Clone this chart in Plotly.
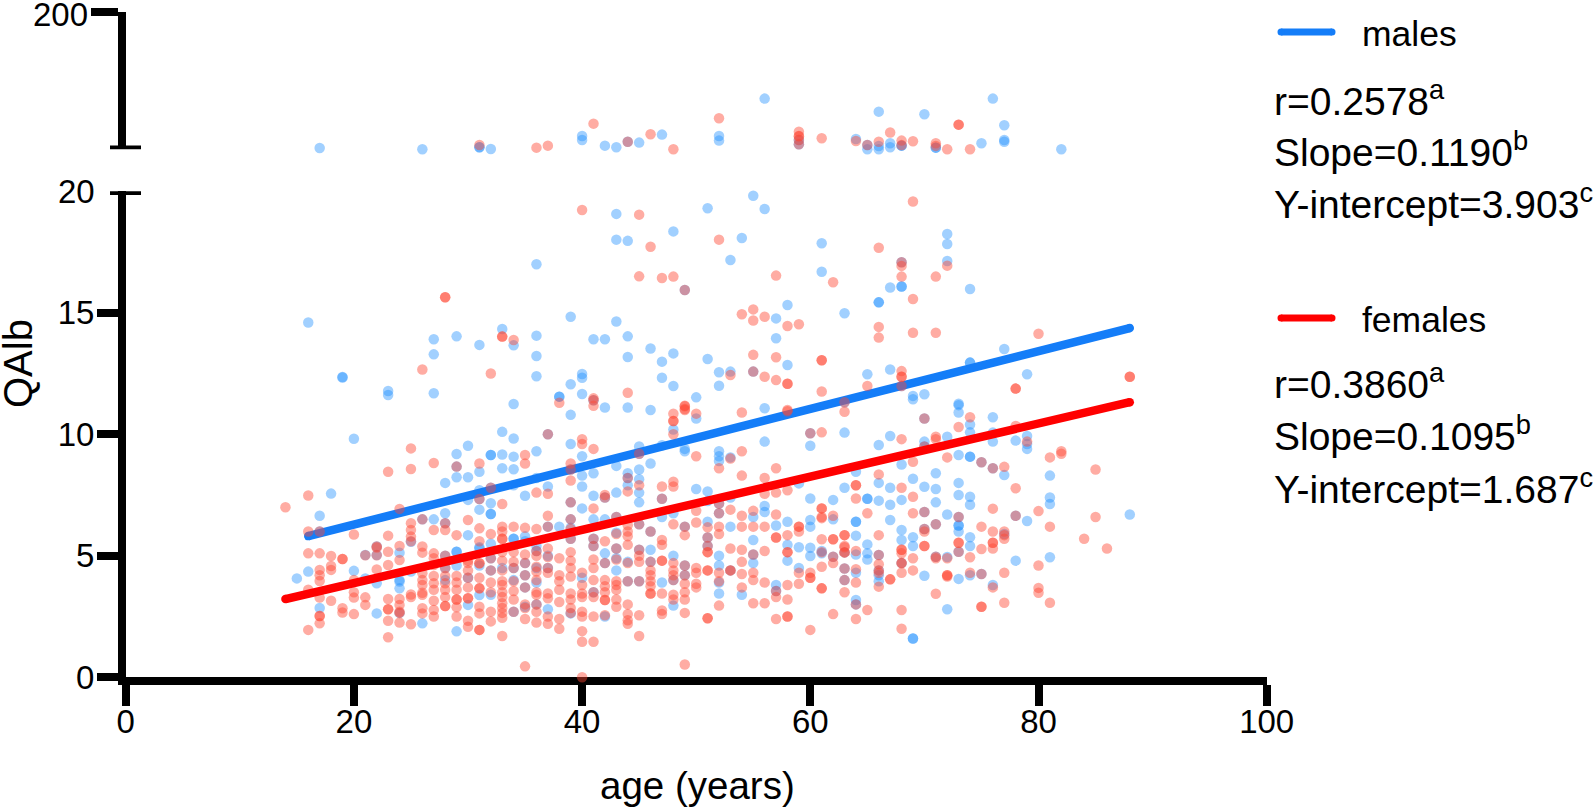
import plotly.graph_objects as go

W, H = 1595, 808
FONT = "Liberation Sans"

# (age, QAlb); lower panel 0-20, upper panel 20-200
male_low = [
 (15,4.07),(16,4.35),(16,14.6),(17,6.65),(17,6.0),(17,2.85),(18,7.56),(19,12.36),(19,12.34),
 (20,9.82),(20,4.38),(21,5.03),(21,4.07),(22,5.38),(22,5.03),(22,3.87),(22,2.63),(23,11.78),(23,11.62),
 (24,5.13),(24,4.0),(24,3.94),(24,3.66),(24,2.65),(25,5.58),(25,4.35),(26,6.5),(26,2.22),
 (27,13.91),(27,13.29),(27,11.69),(27,6.5),(28,8.0),(28,6.75),(28,6.34),(28,5.0),(28,4.5),(28,4.0),
 (29,14.03),(29,9.19),(29,8.67),(29,8.23),(29,5.17),(29,5.17),(29,4.6),(29,1.89),
 (30,9.53),(30,8.23),(30,7.3),(30,5.85),(30,4.1),(30,2.98),
 (31,13.68),(31,8.46),(31,7.7),(31,7.34),(31,6.9),(31,5.35),(31,5.3),(31,4.6),(31,3.39),
 (32,9.15),(32,9.15),(32,7.16),(32,6.72),(32,6.72),(32,7.8),(32,5.5),(32,4.9),(32,4.4),(32,3.4),
 (33,14.33),(33,10.1),(33,9.17),(33,8.6),(33,4.5),
 (34,13.66),(34,11.25),(34,9.83),(34,9.08),(34,8.56),(34,7.9),(34,5.7),(34,5.7),(34,4.5),(34,4.0),(34,2.7),
 (35,7.47),(35,5.8),(35,5.6),(35,4.7),(35,4.2),(35,3.7),(35,2.9),
 (36,17.0),(36,14.06),(36,13.22),(36,12.39),(36,9.3),(36,8.2),(36,5.4),(36,5.2),(36,4.5),(36,3.9),(36,3.0),
 (37,10.0),(37,7.85),(37,6.2),(37,5.0),(37,4.5),(37,2.8),(38,11.55),(38,11.55),(38,6.2),
 (39,14.84),(39,12.06),(39,10.8),(39,9.6),(39,8.55),(39,7.2),(39,6.5),(39,6.15),(39,5.7),(39,2.63),
 (40,12.48),(40,12.33),(40,11.66),(40,9.1),(40,8.3),(40,7.85),(40,6.95),(40,4.1),
 (41,13.91),(41,11.4),(41,8.4),(41,7.47),(41,6.5),(41,5.7),(41,5.4),(41,3.5),
 (42,13.91),(42,11.1),(42,7.4),(42,6.5),(42,5.1),(42,4.7),(42,2.5),
 (43,19.07),(43,18.01),(43,14.64),(43,8.7),(43,7.6),(43,6.6),(43,5.95),(43,5.3),(43,4.9),(43,4.4),
 (44,17.96),(44,14.03),(44,13.18),(44,11.1),(44,8.4),(44,8.2),(44,7.9),(44,4.75),(44,3.95),
 (45,9.5),(45,9.2),(45,8.55),(45,8.15),(45,7.6),(45,7.2),(45,6.3),(45,5.25),(45,3.95),
 (46,13.53),(46,11.0),(46,8.8),(46,6.0),(46,5.25),(46,4.75),
 (47,12.99),(47,12.33),(47,9.55),(47,7.35),(47,6.6),(47,3.9),
 (48,18.35),(48,13.33),(48,11.99),(48,10.2),(48,6.75),(48,5.0),(48,4.0),(48,2.95),
 (49,15.94),(49,9.4),(49,9.3),(49,6.2),(49,4.6),(49,4.2),(50,11.52),(50,10.65),(50,7.75),
 (51,19.3),(51,13.1),(51,7.65),(51,7.25),(51,6.4),(51,5.75),(51,5.4),
 (52,12.55),(52,12.0),(52,9.3),(52,9.1),(52,8.9),(52,7.15),(52,6.75),(52,5.0),(52,4.6),(52,3.9),(52,3.45),
 (53,17.17),(53,12.58),(53,9.05),(53,7.4),(53,6.2),(53,4.4),(54,18.08),(54,3.4),
 (55,19.82),(55,12.58),(55,6.6),(55,5.65),(55,5.05),(55,4.7),(56,19.27),(56,11.07),(56,9.7),(56,7.05),(56,6.8),
 (57,14.77),(57,13.95),(57,6.25),(57,3.8),(57,3.55),(58,15.32),(58,12.85),(58,6.4),(58,5.45),(58,4.8),
 (59,7.98),(59,5.35),(59,4.5),(60,10.04),(60,9.53),(60,7.36),(60,6.47),(60,6.2),(60,5.33),(60,4.99),
 (61,17.86),(61,16.69),(61,5.2),(61,5.1),(62,7.3),(62,6.5),(62,4.96),
 (63,14.98),(63,11.32),(63,10.07),(63,7.8),(63,5.14),(63,4.48),(63,4.0),
 (64,8.46),(64,6.4),(64,6.4),(64,5.83),(64,5.05),(64,4.3),(64,3.18),(64,3.0),
 (65,12.47),(65,7.35),(65,7.35),(65,5.47),(65,5.1),(65,4.85),
 (66,15.43),(66,15.43),(66,9.56),(66,8.0),(66,7.27),(66,5.03),(66,4.4),(66,4.2),(66,3.95),
 (67,16.04),(67,12.67),(67,9.93),(67,7.8),(67,7.1),(67,6.47),
 (68,17.08),(68,16.08),(68,16.08),(68,11.99),(68,8.76),(68,7.3),(68,6.06),(68,5.65),(68,4.7),
 (69,11.58),(69,11.44),(69,8.17),(69,5.76),(69,5.4),(69,1.6),(69,1.6),
 (70,11.65),(70,10.65),(70,9.7),(70,9.5),(70,7.84),(70,6.8),(70,6.1),(70,4.18),
 (71,8.4),(71,7.75),(71,7.2),(71,6.3),(71,4.96),(72,18.24),(72,17.83),(72,17.13),(72,9.9),(72,6.7),(72,4.95),(72,2.8),
 (73,11.26),(73,11.2),(73,10.9),(73,9.15),(73,8.0),(73,7.5),(73,6.6),(73,6.25),(73,6.25),(73,6.0),(73,5.17),(73,4.05),
 (74,15.98),(74,12.95),(74,12.95),(74,10.4),(74,10.08),(74,9.08),(74,9.08),(74,7.43),(74,7.1),(74,5.76),(74,5.4),(74,4.2),
 (75,8.85),(75,4.25),(76,10.7),(76,10.07),(76,9.7),(76,8.6),(76,3.8),(77,13.51),(77,8.32),(77,5.9),
 (78,9.74),(78,6.65),(78,4.8),(79,12.47),(79,9.93),(79,9.6),(79,9.4),(79,6.43),
 (81,8.3),(81,7.4),(81,7.13),(81,4.94),(88,6.7),
]
male_high = [
 (17,21.7),(26,20.0),(31,22.6),(31,22.6),(32,20.4),(40,37.5),(40,32.3),(42,24.8),(43,22.6),(44,30.0),
 (45,28.8),(47,39.3),(52,37.5),(52,31.4),(56,86.6),(59,32.3),(59,26.6),(64,33.6),(65,25.7),(65,20.0),
 (66,69.5),(66,24.4),(66,20.0),(67,27.9),(67,22.6),(68,24.8),(68,24.8),(70,66.0),(71,22.2),(71,22.2),
 (75,27.9),(76,86.6),(77,51.5),(77,32.3),(77,30.0),(82,20.0),
]
female_low = [
 (14,7.0),(16,7.48),(16,6.0),(16,5.1),(16,3.6),(16,1.95),
 (17,6.0),(17,5.1),(17,4.42),(17,4.2),(17,3.96),(17,3.28),(17,2.52),(17,2.52),(17,2.22),
 (18,4.99),(18,4.58),(18,4.42),(18,3.15),(19,4.87),(19,4.87),(19,2.84),(19,2.67),
 (20,5.88),(20,4.0),(20,3.5),(20,3.28),(20,2.6),(21,5.02),(21,3.29),(21,2.98),
 (22,5.38),(22,5.34),(22,5.02),(22,4.44),
 (23,8.46),(23,5.83),(23,5.17),(23,4.62),(23,3.22),(23,2.8),(23,2.8),(23,2.33),(23,1.65),
 (24,6.93),(24,5.4),(24,4.83),(24,3.22),(24,2.98),(24,2.7),(24,2.65),(24,2.25),
 (25,9.42),(25,8.57),(25,6.34),(25,6.06),(25,5.79),(25,5.6),(25,3.41),(25,3.3),(25,2.18),
 (26,12.67),(26,6.5),(26,5.38),(26,5.13),(26,4.28),(26,4.0),(26,3.8),(26,3.48),(26,3.4),(26,2.84),(26,2.63),
 (27,8.82),(27,6.06),(27,5.1),(27,4.9),(27,4.62),(27,4.17),(27,3.87),(27,3.6),(27,3.15),(27,2.77),(27,2.5),
 (28,15.64),(28,15.64),(28,6.34),(28,6.06),(28,5.0),(28,4.5),(28,4.17),(28,3.87),(28,3.6),(28,3.3),(28,2.93),(28,2.93),
 (29,8.67),(29,5.85),(29,4.17),(29,3.9),(29,3.6),(29,3.2),(29,3.2),(29,2.88),(29,2.5),
 (30,6.47),(30,4.8),(30,4.7),(30,4.4),(30,4.1),(30,3.7),(30,3.25),(30,3.25),(30,2.33),(30,2.08),
 (31,8.8),(31,7.34),(31,6.13),(31,5.6),(31,4.69),(31,4.69),(31,4.1),(31,3.66),(31,3.66),(31,2.9),(31,2.63),(31,1.95),(31,1.95),
 (32,12.5),(32,7.8),(32,5.9),(32,4.9),(32,4.4),(32,3.9),(32,3.5),(32,2.7),(32,2.3),
 (33,14.02),(33,14.02),(33,7.13),(33,6.2),(33,6.0),(33,5.7),(33,5.7),(33,5.15),(33,4.8),(33,4.4),(33,3.95),(33,3.8),(33,3.5),(33,3.3),(33,3.05),(33,2.85),(33,2.65),(33,2.45),(33,1.7),
 (34,13.88),(34,6.2),(34,5.15),(34,4.75),(34,4.5),(34,3.95),(34,3.55),(34,3.2),(34,2.7),
 (35,9.15),(35,8.8),(35,6.15),(35,5.05),(35,4.7),(35,4.2),(35,3.7),(35,3.0),(35,2.85),(35,2.4),(35,0.45),
 (36,7.6),(36,6.1),(36,5.2),(36,5.0),(36,4.55),(36,4.35),(36,4.0),(36,3.5),(36,3.4),(36,3.0),(36,2.7),(36,2.25),
 (37,10.0),(37,7.55),(37,6.65),(37,6.2),(37,5.3),(37,4.95),(37,4.5),(37,4.3),(37,3.45),(37,3.25),(37,2.5),(37,2.2),
 (38,11.3),(38,4.9),(38,4.2),(38,3.95),(38,3.6),(38,3.1),(38,2.4),(38,2.0),
 (39,8.8),(39,8.55),(39,8.1),(39,7.2),(39,6.5),(39,6.1),(39,5.7),(39,5.15),(39,4.8),(39,4.5),(39,4.15),(39,3.45),(39,3.2),(39,2.85),(39,2.65),
 (40,19.23),(40,9.8),(40,9.6),(40,4.3),(40,3.8),(40,3.45),(40,3.3),(40,2.7),(40,2.5),(40,1.9),(40,1.46),(40,0.0),
 (41,11.48),(41,11.4),(41,11.17),(41,9.4),(41,6.95),(41,5.7),(41,5.4),(41,4.85),(41,4.5),(41,4.0),(41,3.5),(41,3.3),(41,2.5),(41,1.46),
 (42,7.5),(42,7.4),(42,5.6),(42,4.7),(42,4.0),(42,3.75),(42,3.5),(42,3.18),(42,3.18),(42,2.55),
 (43,6.6),(43,5.9),(43,5.3),(43,4.85),(43,3.95),(43,3.8),(43,3.6),(43,3.2),(43,2.9),
 (44,11.71),(44,8.2),(44,7.65),(44,6.26),(44,6.0),(44,5.8),(44,5.45),(44,4.7),(44,3.95),(44,3.0),(44,2.6),(44,2.35),(44,2.2),
 (45,19.04),(45,16.5),(45,9.2),(45,7.9),(45,6.3),(45,5.25),(45,5.0),(45,4.75),(45,3.95),(45,2.55),(45,1.7),
 (46,17.72),(46,6.0),(46,4.75),(46,4.4),(46,4.2),(46,3.95),(46,3.75),(46,3.45),(46,3.45),
 (47,16.43),(47,7.85),(47,7.35),(47,5.65),(47,5.45),(47,4.8),(47,4.8),(47,3.45),(47,2.75),(47,2.6),
 (48,16.49),(48,10.85),(48,10.55),(48,10.55),(48,10.0),(48,8.05),(48,7.85),(48,6.3),(48,4.7),(48,4.4),(48,4.2),(48,4.0),(48,3.4),(48,3.2),
 (49,15.94),(49,11.18),(49,11.15),(49,11.04),(49,11.0),(49,6.2),(49,5.85),(49,4.6),(49,4.2),(49,3.85),(49,3.5),(49,3.2),(49,2.65),(49,0.53),
 (50,10.85),(50,9.1),(50,6.85),(50,6.37),(50,4.5),(50,4.3),(50,3.85),(50,3.7),
 (51,6.17),(51,5.75),(51,5.4),(51,5.15),(51,5.15),(51,4.4),(51,4.4),(51,2.43),(51,2.43),
 (52,18.01),(52,8.6),(52,7.15),(52,6.75),(52,6.2),(52,5.9),(52,4.3),(52,3.95),(52,2.95),
 (53,12.44),(53,9.0),(53,6.9),(53,5.3),(53,4.4),(53,4.4),
 (54,14.94),(54,10.9),(54,9.3),(54,8.3),(54,6.65),(54,6.2),(54,5.25),(54,4.75),(54,4.25),(54,3.7),
 (55,15.14),(55,14.68),(55,13.27),(55,12.58),(55,6.85),(55,6.2),(55,5.05),(55,4.3),(55,4.0),(55,3.05),
 (56,14.84),(56,12.37),(56,8.2),(56,7.55),(56,6.2),(56,5.2),(56,3.9),(56,3.05),
 (57,16.53),(57,13.17),(57,12.23),(57,8.6),(57,7.6),(57,6.7),(57,5.75),(57,5.75),(57,3.55),(57,3.3),(57,2.4),
 (58,14.46),(58,12.08),(58,12.08),(58,11.0),(58,10.95),(58,7.7),(58,5.85),(58,5.15),(58,5.15),(58,3.8),(58,3.2),(58,2.5),(58,2.5),
 (59,14.53),(59,6.2),(59,6.2),(59,6.0),(59,4.3),(59,3.85),(60,10.04),(60,4.3),(60,4.1),(60,4.1),(60,1.95),
 (61,13.05),(61,13.05),(61,11.76),(61,10.08),(61,6.95),(61,6.95),(61,6.6),(61,6.55),(61,5.68),(61,5.15),(61,4.55),(61,3.66),(61,3.66),
 (62,16.26),(62,6.65),(62,5.68),(62,5.68),(62,4.96),(62,4.7),(62,2.6),
 (63,11.32),(63,10.93),(63,5.85),(63,5.85),(63,5.4),(63,5.35),(63,5.14),(63,5.14),(63,4.48),(63,4.0),(63,3.5),
 (64,7.9),(64,7.9),(64,7.36),(64,5.2),(64,4.45),(64,3.9),(64,3.0),(64,2.4),(65,11.99),(65,6.75),(65,2.77),
 (66,17.68),(66,14.42),(66,13.98),(66,8.35),(66,5.85),(66,5.03),(66,4.65),(66,4.4),(66,4.3),(66,3.73),(67,4.03),(67,4.03),
 (68,17.08),(68,16.93),(68,16.49),(68,12.6),(68,12.37),(68,12.37),(68,11.99),(68,9.8),(68,7.8),(68,5.25),(68,5.25),(68,5.1),(68,4.7),(68,4.7),(68,4.3),(68,2.77),(68,2.0),
 (69,19.58),(69,15.57),(69,14.18),(69,8.87),(69,7.43),(69,6.75),(69,4.9),(69,4.4),
 (70,10.65),(70,9.5),(70,6.8),(70,6.1),(70,6.0),(70,5.4),(70,5.4),
 (71,16.49),(71,14.18),(71,9.9),(71,9.8),(71,6.3),(71,4.96),(71,4.9),(71,3.44),
 (72,16.94),(72,9.05),(72,4.9),(72,4.2),(72,4.2),(72,4.15),(73,10.3),(73,6.6),(73,5.54),(73,5.54),(73,5.17),
 (74,10.7),(74,4.94),(74,4.3),(75,8.85),(75,6.2),(75,5.28),(75,4.25),(75,2.9),(75,2.9),
 (76,8.6),(76,6.94),(76,6.0),(76,5.54),(76,5.54),(76,5.3),(76,3.7),
 (77,8.66),(77,6.0),(77,5.85),(77,5.7),(77,4.3),(77,3.07),
 (78,11.88),(78,11.88),(78,10.34),(78,7.78),(78,6.65),(79,9.7),
 (80,14.14),(80,6.84),(80,4.6),(80,3.68),(80,3.48),(81,9.05),(81,6.2),(81,3.07),(82,9.3),(82,9.2),
 (84,5.7),(85,8.55),(85,6.6),(86,5.3),(88,12.37),(88,12.37),
]
female_high = [
 (31,25.7),(36,22.2),(37,24.8),(41,53.7),(44,30.0),(46,39.7),(48,20.0),(52,60.7),(59,43.2),(59,37.5),(59,37.0),
 (59,32.3),(59,26.6),(61,34.5),(64,31.0),(65,25.7),(66,30.0),(67,42.0),(68,31.4),(68,25.5),(69,30.5),
 (71,27.9),(71,24.5),(72,20.0),(73,52.4),(73,52.4),(74,20.0),
]
male_line_age = [16, 88]
male_line_qalb = [5.81, 14.37]
female_line_age = [14, 88]
female_line_qalb = [3.22, 11.32]

x_ticks = [0, 20, 40, 60, 80, 100]
y_ticks_low = [0, 5, 10, 15]
y_ticks_high = [200]

BLUE_DOT = "rgba(30,144,255,0.42)"
RED_DOT = "rgba(255,70,50,0.45)"
BLUE_LINE = "rgb(20,125,248)"
RED_LINE = "rgb(255,0,0)"
AXIS_W = 7.5


def dots(points, color, yaxis):
    return go.Scatter(x=[p[0] for p in points], y=[p[1] for p in points], yaxis=yaxis, mode="markers",
                      marker=dict(size=10.5, color=color, line=dict(width=0)), cliponaxis=False, showlegend=False)


def fit(ages, vals, color):
    return go.Scatter(x=ages, y=vals, mode="lines+markers", line=dict(color=color, width=8.5),
                      marker=dict(size=8.5, color=color), cliponaxis=False, showlegend=False)


fig = go.Figure()
fig.add_trace(dots(male_low, BLUE_DOT, "y"))
fig.add_trace(dots(male_high, BLUE_DOT, "y2"))
fig.add_trace(fit(male_line_age, male_line_qalb, BLUE_LINE))
fig.add_trace(dots(female_low, RED_DOT, "y"))
fig.add_trace(dots(female_high, RED_DOT, "y2"))
fig.add_trace(fit(female_line_age, female_line_qalb, RED_LINE))


def px(v):
    return v / W


def py(v):
    return 1 - v / H


tickfont = dict(family=FONT, size=33, color="black")
axis_common = dict(showgrid=False, zeroline=False, showline=True, linecolor="black", linewidth=AXIS_W,
                   ticks="outside", tickcolor="black", tickwidth=AXIS_W, tickfont=tickfont, layer="below traces",
                   fixedrange=True, automargin=False, ticklabeloverflow="allow")
fig.update_layout(
    template="none",
    width=W, height=H, margin=dict(l=0, r=0, t=0, b=0, pad=0), autosize=False,
    paper_bgcolor="white", plot_bgcolor="white", showlegend=False,
    font=dict(family=FONT, color="black"),
    xaxis=dict(domain=[px(125.7), px(1266.7)], range=[0, 100], tickvals=x_ticks, ticklen=21, anchor="y",
               ticklabelstandoff=-13, **axis_common),
    yaxis=dict(domain=[py(677.3), py(191.3)], range=[0, 20], tickvals=y_ticks_low, ticklen=21, anchor="x",
               ticklabelstandoff=-4, **axis_common),
    yaxis2=dict(domain=[py(149.3), py(12.3)], range=[20, 200], tickvals=y_ticks_high, ticklen=27, anchor="x",
                showticklabels=False, **axis_common),
)

# break caps on the y axis, and the legend keys
shapes = [
    dict(type="line", xref="paper", yref="y", x0=px(110), x1=px(141), y0=20, y1=20, line=dict(color="black", width=AXIS_W)),
    dict(type="line", xref="paper", yref="y2", x0=px(110), x1=px(141), y0=20, y1=20, line=dict(color="black", width=AXIS_W)),
]
for ky, col in ((32, BLUE_LINE), (318, RED_LINE)):
    shapes.append(dict(type="line", xref="paper", yref="paper", x0=px(1281), x1=px(1332), y0=py(ky), y1=py(ky),
                       line=dict(color=col, width=7)))
    for kx in (1281, 1332):
        shapes.append(dict(type="circle", xref="paper", yref="paper", x0=px(kx - 3.5), x1=px(kx + 3.5),
                           y0=py(ky + 3.5), y1=py(ky - 3.5), fillcolor=col, line=dict(width=0)))
fig.update_layout(shapes=shapes)


def label(text, x, y, size, anchor="left", angle=0):
    fig.add_annotation(text=text, xref="paper", yref="paper", x=px(x), y=py(y), showarrow=False, xanchor=anchor,
                       yanchor="middle", textangle=angle, font=dict(family=FONT, size=size, color="black"))


label("200", 90, 14.5, 33, "right")
label("20", 97, 191.3, 33, "right")
label("age (years)", 697, 785, 38.5, "center")
label("QAlb", 18, 364, 40, "center", -90)
label("males", 1360, 34, 35.5)
label("females", 1360, 320, 35.5)
label("r=0.2578<sup>a</sup>", 1272, 98, 39)
label("Slope=0.1190<sup>b</sup>", 1272, 149, 39)
label("Y-intercept=3.903<sup>c</sup>", 1272, 201, 39)
label("r=0.3860<sup>a</sup>", 1272, 381, 39)
label("Slope=0.1095<sup>b</sup>", 1272, 433, 39)
label("Y-intercept=1.687<sup>c</sup>", 1272, 486, 39)

# the browser's default page margin would offset the whole figure
fig.write_html("out.html", config=dict(displayModeBar=False),
               post_script="document.body.style.margin='0';document.body.style.overflow='hidden';")
